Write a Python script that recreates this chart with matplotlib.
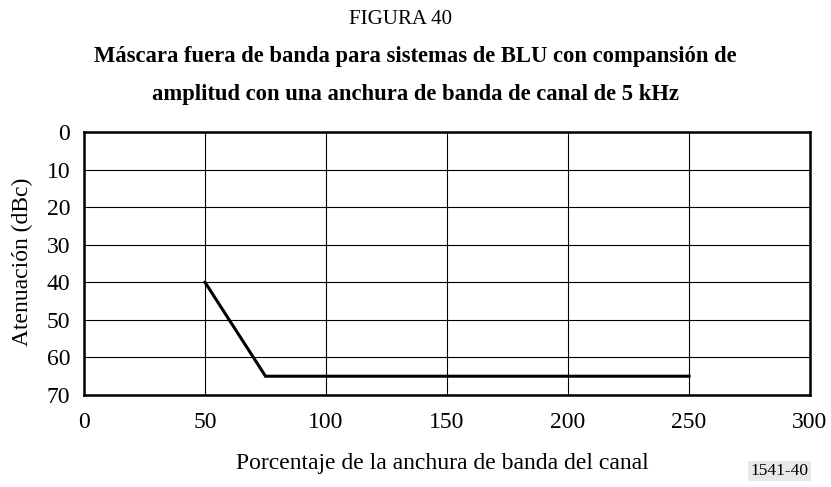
import matplotlib.pyplot as plt

# mask corner points (percent of channel bandwidth, attenuation dBc)
pct = [50, 75, 250]
atten = [40, 65, 65]

x_ticks = [0, 50, 100, 150, 200, 250, 300]
y_ticks = [0, 10, 20, 30, 40, 50, 60, 70]

plt.rcParams['font.family'] = ['Liberation Serif', 'DejaVu Serif']

fig = plt.figure(figsize=(8.31, 4.87), dpi=100)
ax = fig.add_axes([0.1011, 0.1889, 0.8736, 0.5401])

ax.plot(pct, atten, color='black', linewidth=2.2, solid_joinstyle='miter')

ax.set_xlim(0, 300)
ax.set_ylim(70, 0)
ax.set_xticks(x_ticks)
ax.set_yticks(y_ticks)
ax.tick_params(length=0, labelsize=17)
ax.tick_params(axis='x', pad=12.5)
ax.tick_params(axis='y', pad=10)
ax.grid(True, color='black', linewidth=0.8)
ax.set_axisbelow(True)
for s in ax.spines.values():
    s.set_linewidth(1.8)

# axis titles placed by hand
ax.set_xlabel('Porcentaje de la anchura de banda del canal', fontsize=17, va='center')
ax.xaxis.set_label_coords(0.494, -0.26)
ax.set_ylabel('Atenuación (dBc)', fontsize=17, va='center')
ax.yaxis.set_label_coords(-0.085, 0.505)

fig.text(0.482, 0.959, 'FIGURA 40', ha='center', va='center', fontsize=15)
fig.text(0.5, 0.883, 'Máscara fuera de banda para sistemas de BLU con compansión de',
         ha='center', va='center', fontsize=16.3, fontweight='bold')
fig.text(0.5, 0.805, 'amplitud con una anchura de banda de canal de 5 kHz',
         ha='center', va='center', fontsize=16.3, fontweight='bold')
fig.text(0.938, 0.032, '1541-40', ha='center', va='center', fontsize=12.5,
         bbox=dict(facecolor='#e8e8e8', edgecolor='none', pad=1.5))

fig.savefig('out.png', dpi=100)
